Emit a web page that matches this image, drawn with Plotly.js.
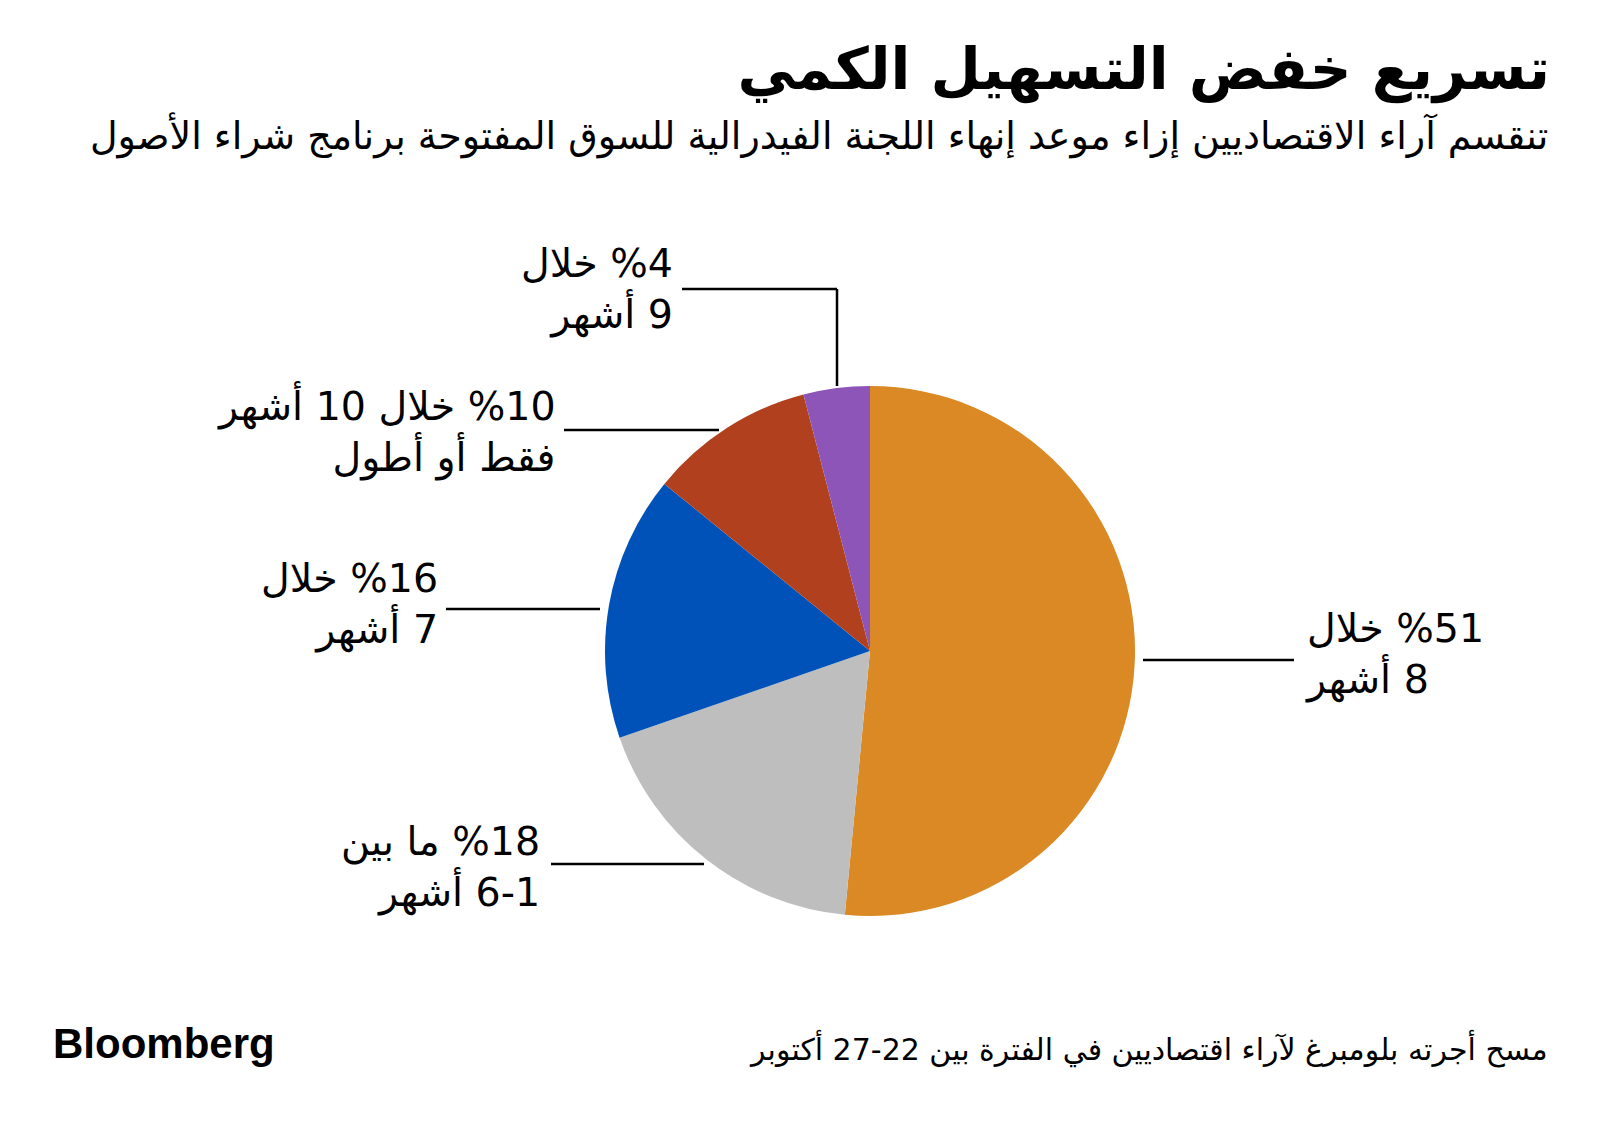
<!DOCTYPE html>
<html>
<head>
<meta charset="utf-8">
<script src="https://cdn.plot.ly/plotly-3.0.1.min.js"></script>
<style>html,body{margin:0;padding:0;background:#fff;}#chart{width:1600px;height:1123px;}</style>
</head>
<body>
<div id="chart"></div>
<script>
// ---- data ----
const categories = ["خلال 8 أشهر", "ما بين 1-6 أشهر", "خلال 7 أشهر", "خلال 10 أشهر فقط أو أطول", "خلال 9 أشهر"];
const values = [51, 18, 16, 10, 4];
const colors = ["#DA8924", "#BEBEBE", "#0052B8", "#B1401F", "#8E55B8"];
const labelLines = [
  ["%51 خلال", "8 أشهر"],
  ["%18 ما بين", "6-1 أشهر"],
  ["%16 خلال", "7 أشهر"],
  ["%10 خلال 10 أشهر", "فقط أو أطول"],
  ["%4 خلال", "9 أشهر"]
];
const titleText = "تسريع خفض التسهيل الكمي";
const subtitleText = "تنقسم آراء الاقتصاديين إزاء موعد إنهاء اللجنة الفيدرالية للسوق المفتوحة برنامج شراء الأصول";
const sourceText = "مسح أجرته بلومبرغ لآراء اقتصاديين في الفترة بين 22-27 أكتوبر";

// ---- helpers ----
const W = 1600, H = 1123;
const px = x => x / W;
const py = y => 1 - y / H;
const rtl = s => "\u202B" + s + "\u202C";
const AR = "DejaVu Sans, Noto Sans, sans-serif";

const cx = 870, cy = 651, R = 265;

// label placement (pixel anchors) for each slice
const labelPos = [
  {x: 1303, y: 654, anchor: "left"},
  {x: 542, y: 867, anchor: "right"},
  {x: 440, y: 604, anchor: "right"},
  {x: 558, y: 431, anchor: "right"},
  {x: 675, y: 289, anchor: "right"}
];
const leaders = [
  [[1143, 660], [1294, 660]],
  [[551, 864], [704, 864]],
  [[446, 609], [600, 609]],
  [[564, 430], [719, 430]],
  [[682, 289], [837, 289], [837, 386]]
];

const annotations = labelLines.map((ln, i) => ({
  xref: "paper", yref: "paper",
  x: px(labelPos[i].x), y: py(labelPos[i].y),
  xanchor: labelPos[i].anchor, yanchor: "middle",
  align: labelPos[i].anchor,
  text: ln.map(rtl).join("<br>"),
  showarrow: false,
  font: {family: AR, size: 39.5, color: "#000"}
}));
annotations.push({
  xref: "paper", yref: "paper", x: px(1550), y: py(136), xanchor: "right", yanchor: "middle",
  text: rtl(subtitleText), showarrow: false,
  font: {family: AR, size: 38, color: "#000"}
});
annotations.push({
  xref: "paper", yref: "paper", x: px(1550), y: py(1048), xanchor: "right", yanchor: "middle",
  text: rtl(sourceText), showarrow: false,
  font: {family: AR, size: 30, color: "#000"}
});
annotations.push({
  xref: "paper", yref: "paper", x: px(51), y: py(1043), xanchor: "left", yanchor: "middle",
  text: "Bloomberg", showarrow: false,
  font: {family: "Liberation Sans, Arial, sans-serif", size: 42, color: "#000", weight: 700}
});

const shapes = [];
leaders.forEach(pts => {
  for (let k = 0; k < pts.length - 1; k++) {
    shapes.push({
      type: "line", xref: "paper", yref: "paper",
      x0: px(pts[k][0]), y0: py(pts[k][1]), x1: px(pts[k+1][0]), y1: py(pts[k+1][1]),
      line: {color: "#000", width: 2.5}
    });
  }
});

const trace = {
  type: "pie",
  labels: categories,
  values: values,
  sort: false,
  direction: "clockwise",
  rotation: 0,
  textinfo: "none",
  hoverinfo: "label+percent",
  marker: {colors: colors, line: {width: 0}},
  domain: {x: [px(cx - R), px(cx + R)], y: [py(cy + R), py(cy - R)]},
  showlegend: false
};

const layout = {
  width: W, height: H,
  margin: {l: 0, r: 0, t: 0, b: 0},
  paper_bgcolor: "#fff",
  plot_bgcolor: "#fff",
  showlegend: false,
  title: {
    text: rtl(titleText),
    xref: "paper", yref: "container",
    x: px(1550), xanchor: "right",
    y: py(69), yanchor: "middle",
    font: {family: AR, size: 58, color: "#000", weight: 700}
  },
  annotations: annotations,
  shapes: shapes
};

Plotly.newPlot("chart", [trace], layout, {displayModeBar: false, responsive: false});
</script>
</body>
</html>
